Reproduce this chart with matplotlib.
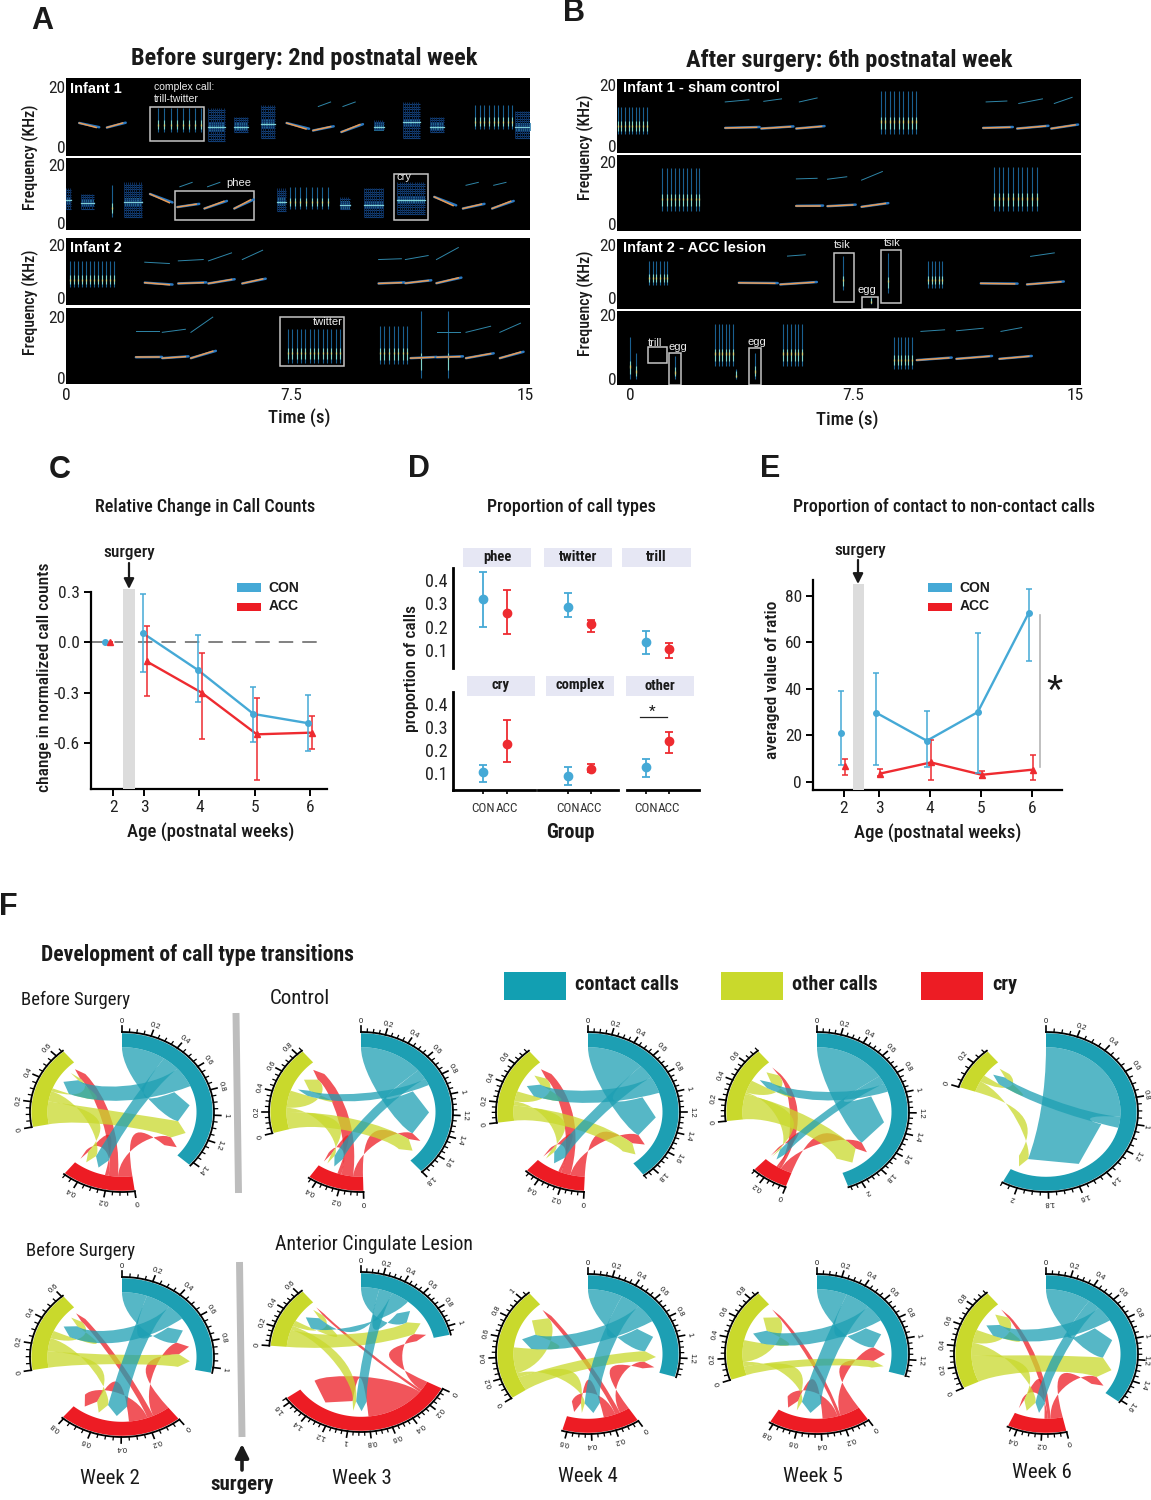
#!/usr/bin/env python3
# -*- coding: utf-8 -*-

import numpy as np
import matplotlib
matplotlib.use('Agg')
import matplotlib.pyplot as plt
from matplotlib.path import Path
from matplotlib.patches import PathPatch, Rectangle

NARROW = ['Roboto Condensed', 'Liberation Sans', 'DejaVu Sans']
ARIAL = ['Liberation Sans', 'DejaVu Sans']
plt.rcParams['font.family'] = NARROW

BLUE = '#45a9d6'
RED = '#ee2b30'
TEAL = '#1d9fb3'
LIME = '#c9d92c'
CRY = '#ed1c24'
GRAY = '#dcdcdc'

# ---- spectrogram panels: phee calls (t0, t1, f0, f1), upper harmonics (t0, t1, f0, f1),
# twitter bursts (stroke times, low, high), noisy cries (t0, t1, low, high)
calls_a1 = [(.43, .98, 8, 6.5), (1.33, 1.84, 6.5, 8), (7.17, 7.8, 8, 6), (8.03, 8.6, 5.5, 6.8), (8.95, 9.55, 5, 7.5)]
harm_a1 = [(8.2, 8.6, 13.5, 15), (9.0, 9.4, 13.5, 15)]
bursts_a1 = [([3.0, 3.2, 3.4, 3.6, 3.8, 4.0, 4.2, 4.4], 5, 13),
             ([13.3, 13.45, 13.6, 13.75, 13.9, 14.05, 14.2, 14.35, 14.5], 6, 14)]
blobs_a1 = [(4.63, 5.17, 2, 13), (5.47, 5.9, 5, 10), (6.34, 6.79, 3, 14), (10.0, 10.33, 6, 9),
            (10.95, 11.5, 3, 15), (11.83, 12.3, 5, 10), (14.6, 15.1, 3, 12)]
calls_a2 = [(2.73, 3.36, 10, 7), (3.62, 4.23, 5.5, 6.5), (4.5, 5.13, 5, 7.5), (5.47, 6.0, 5, 8),
            (11.97, 12.58, 9, 6), (12.9, 13.5, 5, 6.5), (13.85, 14.45, 5, 7.5)]
harm_a2 = [(3.7, 4.1, 12.5, 14), (4.6, 5.0, 12.5, 14), (13.0, 13.4, 13, 14), (13.9, 14.3, 13, 14)]
bursts_a2 = [([1.48], 2, 13), ([7.28, 7.45, 7.62, 7.8, 7.98, 8.15, 8.32, 8.5], 5, 12.5)]
blobs_a2 = [(0, .17, 5, 12), (.48, .9, 5, 10), (1.87, 2.46, 2, 14), (6.85, 7.14, 4, 12), (8.9, 9.24, 5, 9),
            (9.67, 10.31, 2, 12), (10.77, 11.66, 3, 14)]
calls_a3 = [(2.56, 3.36, 5.8, 5), (3.65, 4.46, 5.5, 5.8), (4.63, 5.38, 5.5, 7), (5.73, 6.39, 5.5, 7.2),
            (10.16, 10.9, 5.5, 5.8), (11.03, 11.77, 5.6, 6.6), (12.04, 12.75, 5.6, 7.6)]
harm_a3 = [(2.56, 3.36, 13.5, 13), (3.65, 4.46, 14, 14.5), (4.63, 5.38, 14, 17), (5.73, 6.39, 14.5, 18),
           (10.16, 10.9, 14.5, 14.8), (11.03, 11.77, 14.5, 16), (12.04, 12.75, 14.5, 19)]
bursts_a3 = [([.14, .27, .4, .53, .66, .79, .92, 1.05, 1.18, 1.31, 1.44, 1.57], 4, 14)]
blobs_a3 = []
calls_a4 = [(2.27, 3.02, 6.8, 6.8), (3.13, 3.88, 6.5, 7), (4.06, 4.77, 6.5, 8.8), (11.2, 11.95, 6.5, 6.8),
            (12.06, 12.8, 6.8, 7), (13, 13.8, 6.5, 8), (14.1, 14.77, 6.5, 8.5)]
harm_a4 = [(2.27, 3.02, 15.5, 15.5), (3.13, 3.88, 15, 16), (4.06, 4.77, 15, 20), (12.06, 12.8, 15, 15),
           (13, 13.8, 15, 17), (14.1, 14.77, 15, 18)]
bursts_a4 = [([7.22, 7.36, 7.5, 7.64, 7.78, 7.92, 8.06, 8.2, 8.34, 8.48, 8.62, 8.76, 8.89], 5, 16),
             ([10.2, 10.35, 10.5, 10.65, 10.8, 10.95, 11.08], 4.5, 17), ([11.55], 0, 22), ([12.4], 0, 22)]
blobs_a4 = []

calls_b1 = [(3.2, 4.26, 6, 6.2), (4.42, 5.4, 5.8, 6.4), (5.6, 6.45, 5.8, 6.5), (11.9, 12.8, 6, 6.2),
            (13.05, 14, 5.8, 6.6), (14.2, 15, 5.8, 7)]
harm_b1 = [(3.2, 4.0, 14.5, 15.2), (4.5, 5.1, 14.7, 15.5), (5.7, 6.3, 14.5, 15.8), (12.0, 12.7, 14.5, 14.8),
           (13.1, 13.9, 14, 15.5), (14.3, 14.9, 14, 16)]
bursts_b1 = [([-.42, -.3, -.18, -.06, .06, .18, .3, .42, .55], 4, 13),
             ([8.45, 8.6, 8.75, 8.9, 9.05, 9.2, 9.35, 9.5, 9.65], 4, 18)]
blobs_b1 = []
calls_b2 = [(5.6, 6.4, 5.8, 5.8), (6.65, 7.5, 5.7, 6.1), (7.8, 8.6, 5.5, 6.6)]
harm_b2 = [(5.6, 6.3, 14.6, 14.8), (6.65, 7.3, 14.5, 15.3), (7.8, 8.5, 14.2, 17)]
bursts_b2 = [([1.08, 1.22, 1.36, 1.5, 1.64, 1.78, 1.92, 2.06, 2.2, 2.33], 4, 18),
             ([12.26, 12.42, 12.58, 12.74, 12.9, 13.06, 13.22, 13.38, 13.54, 13.7], 4, 18.5)]
blobs_b2 = []
calls_b3 = [(3.66, 4.87, 5.8, 5.6), (5.06, 6.19, 5.2, 6), (11.82, 12.96, 5.6, 5.4), (13.38, 14.52, 5.2, 6.2)]
harm_b3 = [(5.3, 5.9, 15.8, 16.3), (13.5, 14.3, 15.7, 17)]
bursts_b3 = [([.63, .75, .87, 1.0, 1.12, 1.24], 5, 14), ([7.18], 3, 16), ([8.7], 2, 17), ([8.13], -2, 0),
             ([10.04, 10.16, 10.28, 10.4, 10.52], 4, 14)]
blobs_b3 = []
calls_b4 = [(9.66, 10.74, 5.8, 6.5), (11, 12.1, 6.2, 7), (12.45, 13.44, 6.2, 7)]
harm_b4 = [(9.8, 10.6, 14.8, 15.3), (11, 11.9, 15, 15.8), (12.5, 13.2, 14.8, 16)]
bursts_b4 = [([0], 0, 13), ([.2], 0, 8), ([2.86, 2.98, 3.1, 3.22, 3.34, 3.46], 4, 17), ([3.56], 0, 3),
             ([5.15, 5.28, 5.41, 5.54, 5.67, 5.78], 4, 17), ([8.9, 9.02, 9.14, 9.26, 9.38, 9.5], 3, 13),
             ([1.5], 0, 7), ([4.2], 0, 8)]
blobs_b4 = []

rows_a = [(calls_a1, harm_a1, bursts_a1, blobs_a1), (calls_a2, harm_a2, bursts_a2, blobs_a2),
          (calls_a3, harm_a3, bursts_a3, blobs_a3), (calls_a4, harm_a4, bursts_a4, blobs_a4)]
rows_b = [(calls_b1, harm_b1, bursts_b1, blobs_b1), (calls_b2, harm_b2, bursts_b2, blobs_b2),
          (calls_b3, harm_b3, bursts_b3, blobs_b3), (calls_b4, harm_b4, bursts_b4, blobs_b4)]

# ---- panel C
weeks = [2, 3, 4, 5, 6]
c_con = [0, .055, -.165, -.425, -.48]
c_con_hi = [0, .29, .046, -.262, -.312]
c_con_lo = [0, -.177, -.356, -.59, -.644]
c_acc = [0, -.113, -.298, -.546, -.536]
c_acc_hi = [0, .10, -.064, -.332, -.44]
c_acc_lo = [0, -.316, -.572, -.82, -.634]

# ---- panel D
call_types = ['phee', 'twitter', 'trill', 'cry', 'complex', 'other']
d_con = [.32, .283, .133, .104, .086, .126]
d_con_hi = [.433, .343, .183, .133, .126, .159]
d_con_lo = [.2, .243, .083, .059, .048, .083]
d_acc = [.261, .21, .103, .226, .119, .238]
d_acc_hi = [.356, .231, .129, .332, .138, .277]
d_acc_lo = [.169, .176, .064, .146, .103, .187]

# ---- panel E
e_con = [21, 29.8, 17.7, 30, 72.5]
e_con_hi = [39, 46.7, 30.3, 64, 83]
e_con_lo = [7.4, 7.4, 6.3, 3.9, 52]
e_acc = [6.7, 3.6, 8.4, 3.1, 5.3]
e_acc_hi = [9.9, 5.4, 18, 4.7, 11.4]
e_acc_lo = [3.1, 2.7, 1, 1.7, .7]

# ---- panel F: transition flows, rows = from, columns = to, order contact / cry / other
ctl_wk2 = [[.37, .15, .20], [.12, .03, .08], [.22, .10, .03]]
ctl_wk3 = [[.65, .12, .08], [.10, .04, .12], [.20, .05, .20]]
ctl_wk4 = [[.60, .17, .20], [.15, .03, .10], [.18, .05, .12]]
ctl_wk5 = [[.75, .10, .10], [.12, .02, .03], [.30, .02, .15]]
ctl_wk6 = [[.95, 0, .10], [0, 0, 0], [.10, 0, .06]]
acc_wk2 = [[.20, .20, .15], [.14, .15, .05], [.15, .12, .07]]
acc_wk3 = [[.20, .15, .20], [.12, .65, .03], [.22, .05, .07]]
acc_wk4 = [[.35, .20, .22], [.10, .12, .05], [.16, .05, .30]]
acc_wk5 = [[.30, .25, .20], [.20, .15, .03], [.10, .05, .25]]
acc_wk6 = [[.45, .12, .18], [.12, .03, .03], [.30, .15, .15]]
flows = [ctl_wk2, ctl_wk3, ctl_wk4, ctl_wk5, ctl_wk6, acc_wk2, acc_wk3, acc_wk4, acc_wk5, acc_wk6]
red_first = [False, True, True, True, False, True, False, False, True, False]
centers = [(122, 1112), (361, 1112), (588, 1112), (817, 1112), (1046, 1112),
           (122, 1357), (361, 1352), (588, 1354), (817, 1354), (1046, 1354)]

fig = plt.figure(figsize=(11.51, 15), dpi=100, facecolor='white')
W, H = 1151., 1500.


def px_axes(l, t, r, b, **kw):
    return fig.add_axes([l / W, 1 - b / H, (r - l) / W, (b - t) / H], **kw)


# overlay in picture pixels for the free text
ov = fig.add_axes([0, 0, 1, 1], zorder=10)
ov.set_xlim(0, W)
ov.set_ylim(H, 0)
ov.axis('off')
ov.patch.set_alpha(0)


def T(x, y, s, size=14, weight='normal', ha='center', family=NARROW, color='#1a1a1a', rot=0):
    ov.text(x, y, s, fontsize=size, fontweight=weight, ha=ha, va='center', family=family, color=color, rotation=rot)


def draw_row(ax, row):
    calls, harm, bursts, blobs = row
    for t0, t1, lo, hi in blobs:
        ax.hlines(np.arange(lo, hi, .8), t0, t1, color='#123f78', lw=.8)
        ax.vlines(np.arange(t0, t1, .07), lo, hi, color='#0d2f5c', lw=.7)
        mid = (lo + hi) / 2.
        ax.fill_between([t0, t1], mid - 2, mid + .5, color='#2a7fb0', lw=0, alpha=.8)
        ax.plot([t0, t1], [mid - .7, mid - .7], color='#7fd0d8', lw=.9)
    for times, lo, hi in bursts:
        ax.vlines(times, lo, hi, color='#1a5f90', lw=.8)
        mid = lo + (hi - lo) * .3
        ax.vlines(times, lo + (hi - lo) * .12, mid + 1.5, color='#7fd3cc', lw=.8)
        ax.vlines(times, mid - .5, mid + .3, color='#d8c870', lw=.9)
    for t0, t1, f0, f1 in harm:
        ax.plot([t0, t1], [f0, f1], color='#2f86a8', lw=.7)
    for t0, t1, f0, f1 in calls:
        ax.plot([t0, t1 + .1], [f0, f1 + .1], color='#2a78c0', lw=1.8, solid_capstyle='round')
        ax.plot([t0, t1], [f0, f1], color='#e89a55', lw=1.1)


def spectro(x0, x1, xlim, tops, bots, top_vals, rows):
    for i in range(4):
        ax = px_axes(x0, tops[i], x1, bots[i], facecolor='black')
        ax.set_xlim(*xlim)
        ax.set_ylim(*top_vals[i])
        draw_row(ax, rows[i])
        ax.set_xticks([])
        ax.set_yticks([0, 20])
        ax.tick_params(axis='y', length=0, pad=.5, labelsize=12.5, labelcolor='#222222')
        for s in ax.spines.values():
            s.set_visible(False)
        yield ax


# panel A
tops_a = [78, 158, 238, 308]
bots_a = [156, 230, 305, 384]
lims_a = [(-3, 23), (-2.4, 22.4), (-2.6, 22.6), (-2, 23)]
axes_a = list(spectro(66, 530, (0, 15.08), tops_a, bots_a, lims_a, rows_a))
# panel B
tops_b = [79, 155, 239, 311]
bots_b = [153, 231, 309, 385]
lims_b = [(-2.2, 22), (-2.4, 22.4), (-4, 22.2), (-2, 21.2)]
axes_b = list(spectro(617, 1081, (-.45, 15.2), tops_b, bots_b, lims_b, rows_b))


def box(ax, t0, t1, f0, f1):
    ax.add_patch(Rectangle((t0, f0), t1 - t0, f1 - f0, fill=False, ec='#c4c4c4', lw=1.1, clip_on=True))


box(axes_a[0], 2.74, 4.49, 2, 13.5)
box(axes_a[1], 3.54, 6.12, 1, 11)
box(axes_a[1], 10.65, 11.77, 1, 17)
box(axes_a[3], 6.97, 9.04, 4, 20)
box(axes_b[2], 6.87, 7.53, -1.2, 17)
box(axes_b[2], 8.46, 9.14, -1.6, 18)
box(axes_b[2], 7.81, 8.36, -4, .6)
box(axes_b[3], .6, 1.23, 5, 9.8)
box(axes_b[3], 1.31, 1.7, -2, 8)
box(axes_b[3], 4, 4.4, -2, 9.7)

T(42, 21, 'A', 22, 'bold', family=ARIAL)
T(574, 13, 'B', 22, 'bold', family=ARIAL)
T(304, 59, 'Before surgery: 2nd postnatal week', 17.6, 'bold')
T(849, 60, 'After surgery: 6th postnatal week', 17.6, 'bold')
T(70, 89, 'Infant 1', 10.5, 'bold', ha='left', family=ARIAL, color='white')
T(70, 248, 'Infant 2', 10.5, 'bold', ha='left', family=ARIAL, color='white')
T(623, 88, 'Infant 1 - sham control', 10.5, 'bold', ha='left', family=ARIAL, color='white')
T(623, 248, 'Infant 2 - ACC lesion', 10.5, 'bold', ha='left', family=ARIAL, color='white')
T(154, 87, 'complex call:', 7.5, ha='left', family=ARIAL, color='#eeeeee')
T(154, 99, 'trill-twitter', 7.5, ha='left', family=ARIAL, color='#eeeeee')
T(239, 183, 'phee', 8, family=ARIAL, color='#eeeeee')
T(404, 177, 'cry', 8, family=ARIAL, color='#eeeeee')
T(328, 322, 'twitter', 8, family=ARIAL, color='#eeeeee')
T(842, 245, 'tsik', 8, family=ARIAL, color='#eeeeee')
T(892, 243, 'tsik', 8, family=ARIAL, color='#eeeeee')
T(867, 290, 'egg', 8, family=ARIAL, color='#eeeeee')
T(655, 343, 'trill', 8, family=ARIAL, color='#eeeeee')
T(678, 347, 'egg', 8, family=ARIAL, color='#eeeeee')
T(757, 342, 'egg', 8, family=ARIAL, color='#eeeeee')
T(30, 157, 'Frequency (KHz)', 11.5, 'medium', rot=90)
T(30, 302, 'Frequency (KHz)', 11.5, 'medium', rot=90)
T(585, 147, 'Frequency (KHz)', 11.5, 'medium', rot=90)
T(585, 303, 'Frequency (KHz)', 11.5, 'medium', rot=90)
for x, s in [(66, '0'), (291, '7.5'), (525, '15')]:
    T(x, 395, s, 12.5)
for x, s in [(630, '0'), (853, '7.5'), (1075, '15')]:
    T(x, 396, s, 12.5)
T(299, 418, 'Time (s)', 13.5, 'medium')
T(847, 420, 'Time (s)', 13.5, 'medium')


def line_panel(ax, xticks, xlabels, x_con, x_acc, con, con_hi, con_lo, acc, acc_hi, acc_lo, cap=2.5):
    ax.spines['top'].set_visible(False)
    ax.spines['right'].set_visible(False)
    ax.spines['left'].set_linewidth(1.6)
    ax.spines['bottom'].set_linewidth(1.6)
    ax.set_xticks(xticks)
    ax.set_xticklabels(xlabels)
    ax.tick_params(labelsize=12.5, width=1.4, length=5, pad=3, labelcolor='#222222')
    for xs, m, hi, lo, col, mk in [(x_con, con, con_hi, con_lo, BLUE, 'o'), (x_acc, acc, acc_hi, acc_lo, RED, '^')]:
        m = np.array(m, float)
        yerr = [m - np.array(lo), np.array(hi) - m]
        ax.errorbar(xs, m, yerr=yerr, fmt=mk, ms=4, color=col, ecolor=col, elinewidth=1.1, capsize=cap, capthick=1.1,
                    clip_on=False, zorder=4)
        ax.plot(xs[1:], m[1:], color=col, lw=1.7, zorder=3)


# panel C
ax_c = px_axes(91, 592, 327, 789, facecolor='none')
ax_c.set_xlim(2.04, 6.31)
ax_c.set_ylim(-.871, .3)
x_con_c = [2.3, 2.98, 3.98, 4.98, 5.97]
x_acc_c = [2.39, 3.05, 4.04, 5.04, 6.03]
ax_c.axhline(0, color='#777777', lw=1.3, dashes=(8, 5), xmax=.985, zorder=1)
line_panel(ax_c, [2.44, 3, 4, 5, 6], weeks, x_con_c, x_acc_c, c_con, c_con_hi, c_con_lo, c_acc, c_acc_hi, c_acc_lo)
ax_c.set_yticks([.3, 0, -.3, -.6])
ax_c.set_yticklabels(['0.3', '0.0', '-0.3', '-0.6'])
ov.add_patch(Rectangle((123, 589), 12, 200, color=GRAY, lw=0))
T(60, 470, 'C', 22, 'bold', family=ARIAL)
T(205, 507, 'Relative Change in Call Counts', 13, 'medium')
T(129, 552, 'surgery', 12.5, 'medium')
T(211, 832, 'Age (postnatal weeks)', 13.5, 'medium')
T(45, 677, 'change in normalized call counts', 12.6, 'medium', rot=90)

# panel D
col_spans = [(453, 535), (538, 618), (627, 699)]
con_px = [483, 568, 646]
acc_px = [507, 591, 669]
row_spans = [(568, 668, .452, .023), (692, 790, .452, .026)]
strips = [(463, 531, 548, 567), (544, 612, 548, 567), (622, 691, 548, 567),
          (467, 535, 676, 696), (546, 614, 676, 696), (626, 694, 676, 696)]
for k, name in enumerate(call_types):
    r, c = k // 3, k % 3
    l, rr = col_spans[c]
    t, b, hi_lim, lo_lim = row_spans[r]
    ax = px_axes(l, t, rr, b, facecolor='none')
    ax.set_ylim(lo_lim, hi_lim)
    ax.set_xlim((l - con_px[c]) / float(acc_px[c] - con_px[c]), (rr - con_px[c]) / float(acc_px[c] - con_px[c]))
    for x, m, hi, lo, col in [(0, d_con[k], d_con_hi[k], d_con_lo[k], BLUE), (1, d_acc[k], d_acc_hi[k], d_acc_lo[k], RED)]:
        ax.errorbar([x], [m], yerr=[[m - lo], [hi - m]], fmt='o', ms=6, color=col, ecolor=col, elinewidth=1.3, capsize=3,
                    capthick=1.3)
    ax.spines['top'].set_visible(False)
    ax.spines['right'].set_visible(False)
    ax.spines['left'].set_visible(c == 0)
    ax.spines['left'].set_linewidth(2)
    ax.spines['bottom'].set_visible(r == 1)
    ax.spines['bottom'].set_linewidth(2)
    if c == 0:
        ax.set_yticks([.1, .2, .3, .4])
        ax.tick_params(axis='y', labelsize=13, length=0, pad=4, labelcolor='#222222')
    else:
        ax.set_yticks([])
    if r == 1:
        ax.set_xticks([0, 1])
        ax.set_xticklabels(['CON', 'ACC'])
        ax.tick_params(axis='x', labelsize=9.5, length=3, width=1.2, pad=6, labelcolor='#333333')
    else:
        ax.set_xticks([])
    sx0, sx1, sy0, sy1 = strips[k]
    ov.add_patch(Rectangle((sx0, sy0), sx1 - sx0, sy1 - sy0, color='#e6e7f4', lw=0))
    T((sx0 + sx1) / 2., (sy0 + sy1) / 2. - .5, name, 10.5, 'bold')
ov.plot([640, 667], [717, 717], color='#222222', lw=.9)
T(652, 712, '*', 11)
T(419, 469, 'D', 22, 'bold', family=ARIAL)
T(571, 507, 'Proportion of call types', 13, 'medium')
T(412, 668, 'proportion of calls', 12.5, 'medium', rot=90)
T(570, 833, 'Group', 14.5, 'bold')

# panel E
ax_e = px_axes(813, 580, 1062, 790, facecolor='none')
ax_e.set_xlim(3 + (813 - 879) / 50.9, 3 + (1062 - 879) / 50.9)
ax_e.set_ylim((782 - 790) / 2.33, (782 - 580) / 2.33)
x_con_e = [2.26, 2.94, 3.94, 4.94, 5.94]
x_acc_e = [2.34, 3.02, 4.02, 5.02, 6.02]
line_panel(ax_e, [2.31, 3, 4, 5, 6], weeks, x_con_e, x_acc_e, e_con, e_con_hi, e_con_lo, e_acc, e_acc_hi, e_acc_lo, cap=2)
ax_e.set_yticks([0, 20, 40, 60, 80])
ov.add_patch(Rectangle((853, 584), 11, 206, color=GRAY, lw=0))
ov.plot([1040, 1040], [615, 767], color='#b5b5b5', lw=1.2)
T(1054, 693, '*', 30, family=ARIAL)
T(770, 469, 'E', 22, 'bold', family=ARIAL)
T(944, 507, 'Proportion of contact to non-contact calls', 13, 'medium')
T(860, 550, 'surgery', 12.5, 'medium')
T(938, 833, 'Age (postnatal weeks)', 13.5, 'medium')
T(773, 680, 'averaged value of ratio', 12.5, 'medium', rot=90)

# arrows and legends of C and E
for x, y0, y1 in [(129, 563, 589), (858, 560, 584)]:
    ov.annotate('', xy=(x, y1), xytext=(x, y0), arrowprops=dict(arrowstyle='-|>', color='#1a1a1a', lw=1.6, mutation_scale=15, shrinkA=0, shrinkB=0))
for x0, xt in [(237, 268), (928, 959)]:
    ov.add_patch(Rectangle((x0, 583), 24, 9, color=BLUE, lw=0))
    ov.add_patch(Rectangle((x0, 603), 24, 8, color=CRY, lw=0))
    T(xt, 588, 'CON', 10, 'bold', ha='left', family=ARIAL)
    T(xt + 1, 606, 'ACC', 10, 'bold', ha='left', family=ARIAL)

# panel F chords, angles clockwise from north in degrees
RX, RY = 92., 80.
GAP = 40.
colors = [TEAL, CRY, LIME]


def P(c, a, r):
    a = np.radians(a)
    return (c[0] + RX * r * np.sin(a), c[1] - RY * r * np.cos(a))


def arc_pts(c, a0, a1, r, n=30):
    return [P(c, a, r) for a in np.linspace(a0, a1, n)]


def cw_sep(a, b):
    return (b - a) % 360.


def link(c, a0, a1, b0, b1, col):
    # edges leave the root and reach the target along the radius
    r0, rb, rt = .81, .62, .74
    ma, mb = (a0 + a1) / 2., (b0 + b1) / 2.
    sep = cw_sep(ma, mb)
    span = min(sep, 360. - sep)
    k_in, k_out = (.2, .45) if span < 100 else (.42, .26)
    k1, k2 = (k_in, k_out) if sep <= 180 else (k_out, k_in)
    verts = arc_pts(c, a0, a1, r0)
    codes = [Path.MOVETO] + [Path.LINETO] * (len(verts) - 1)
    verts += [P(c, a1, k1), P(c, b0, k1), P(c, b0, rb)]
    codes += [Path.CURVE4] * 3
    verts += [P(c, mb, rt), P(c, b1, rb)]
    codes += [Path.LINETO, Path.LINETO]
    verts += [P(c, b1, k2), P(c, a0, k2), P(c, a0, r0), P(c, a0, r0)]
    codes += [Path.CURVE4] * 3 + [Path.CLOSEPOLY]
    ov.add_patch(PathPatch(Path(verts, codes), fc=col, ec='none', alpha=.75))


def chord(c, F, red_before_green):
    F = np.array(F, float)
    totals = F.sum(axis=1) + F.sum(axis=0)
    unit = (360. - 3 * GAP) / totals.sum()
    start = 0.
    starts = []
    for i in range(3):
        starts.append(start)
        start += totals[i] * unit + GAP
    out_order = [[0, 1, 2], [0, 2, 1], [0, 1, 2]]
    in_order = [[0, 1, 2] if red_before_green else [0, 2, 1], [0, 2, 1], [0, 2, 1]]
    out_pos, in_pos = {}, {}
    for i in range(3):
        a = starts[i]
        for j in out_order[i]:
            out_pos[(i, j)] = (a, a + F[i, j] * unit)
            a += F[i, j] * unit
        for j in in_order[i]:
            in_pos[(j, i)] = (a, a + F[j, i] * unit)
            a += F[j, i] * unit
    for i, j in [(1, 1), (1, 0), (1, 2), (2, 2), (2, 0), (2, 1), (0, 0), (0, 1), (0, 2)]:
        if F[i, j] > 0:
            link(c, out_pos[(i, j)][0], out_pos[(i, j)][1], in_pos[(i, j)][0], in_pos[(i, j)][1], colors[i])
    for i in range(3):
        if totals[i] <= 0:
            continue
        a0, a1 = starts[i], starts[i] + totals[i] * unit
        band = arc_pts(c, a0, a1, .985, 60) + arc_pts(c, a1, a0, .81, 60)
        ov.fill([p[0] for p in band], [p[1] for p in band], color=colors[i], lw=0)
        rim = arc_pts(c, a0, a1, 1., 60)
        ov.plot([p[0] for p in rim], [p[1] for p in rim], color='black', lw=1.3)
        v = 0
        k = 0
        while v <= totals[i] + 1e-6:
            a = a0 + v * unit
            major = k % 4 == 0
            p0, p1 = P(c, a, 1.), P(c, a, 1.075 if major else 1.04)
            ov.plot([p0[0], p1[0]], [p0[1], p1[1]], color='black', lw=1.2 if major else .9)
            if major:
                lab = P(c, a, 1.13)
                T(min(lab[0], 1146), lab[1], '%g' % round(v, 1), 5.5, family=ARIAL, rot=-a)
            k += 1
            v = k * .05


for c, F, rf in zip(centers, flows, red_first):
    chord(c, F, rf)

T(8, 907, 'F', 22, 'bold', family=ARIAL)
T(197, 955, 'Development of call type transitions', 15.6, 'bold')
T(21, 1000, 'Before Surgery', 13.5, ha='left')
T(270, 998, 'Control', 15, ha='left')
T(26, 1251, 'Before Surgery', 13.5, ha='left')
T(275, 1245, 'Anterior Cingulate Lesion', 14.3, ha='left')
for x, y, s in [(110, 1478, 'Week 2'), (362, 1478, 'Week 3'), (588, 1477, 'Week 4'), (813, 1477, 'Week 5'), (1042, 1473, 'Week 6')]:
    T(x, y, s, 15)
for x0, w, col, s in [(504, 62, '#129fb2', 'contact calls'), (721, 62, LIME, 'other calls'), (921, 62, CRY, 'cry')]:
    ov.add_patch(Rectangle((x0, 972), w, 28, color=col, lw=0))
    T(x0 + w + 9, 985, s, 14.5, 'bold', ha='left')
ov.plot([236, 238.5], [1013, 1193], color='#bdbdbd', lw=5, solid_capstyle='butt')
ov.plot([239.5, 242], [1262, 1437], color='#bdbdbd', lw=5, solid_capstyle='butt')
ov.annotate('', xy=(242, 1444), xytext=(242, 1470), arrowprops=dict(arrowstyle='-|>', color='#1a1a1a', lw=2.6, mutation_scale=20, shrinkA=0, shrinkB=0))
T(242, 1485, 'surgery', 15, 'bold')

fig.savefig('out.png', dpi=100, facecolor='white')
